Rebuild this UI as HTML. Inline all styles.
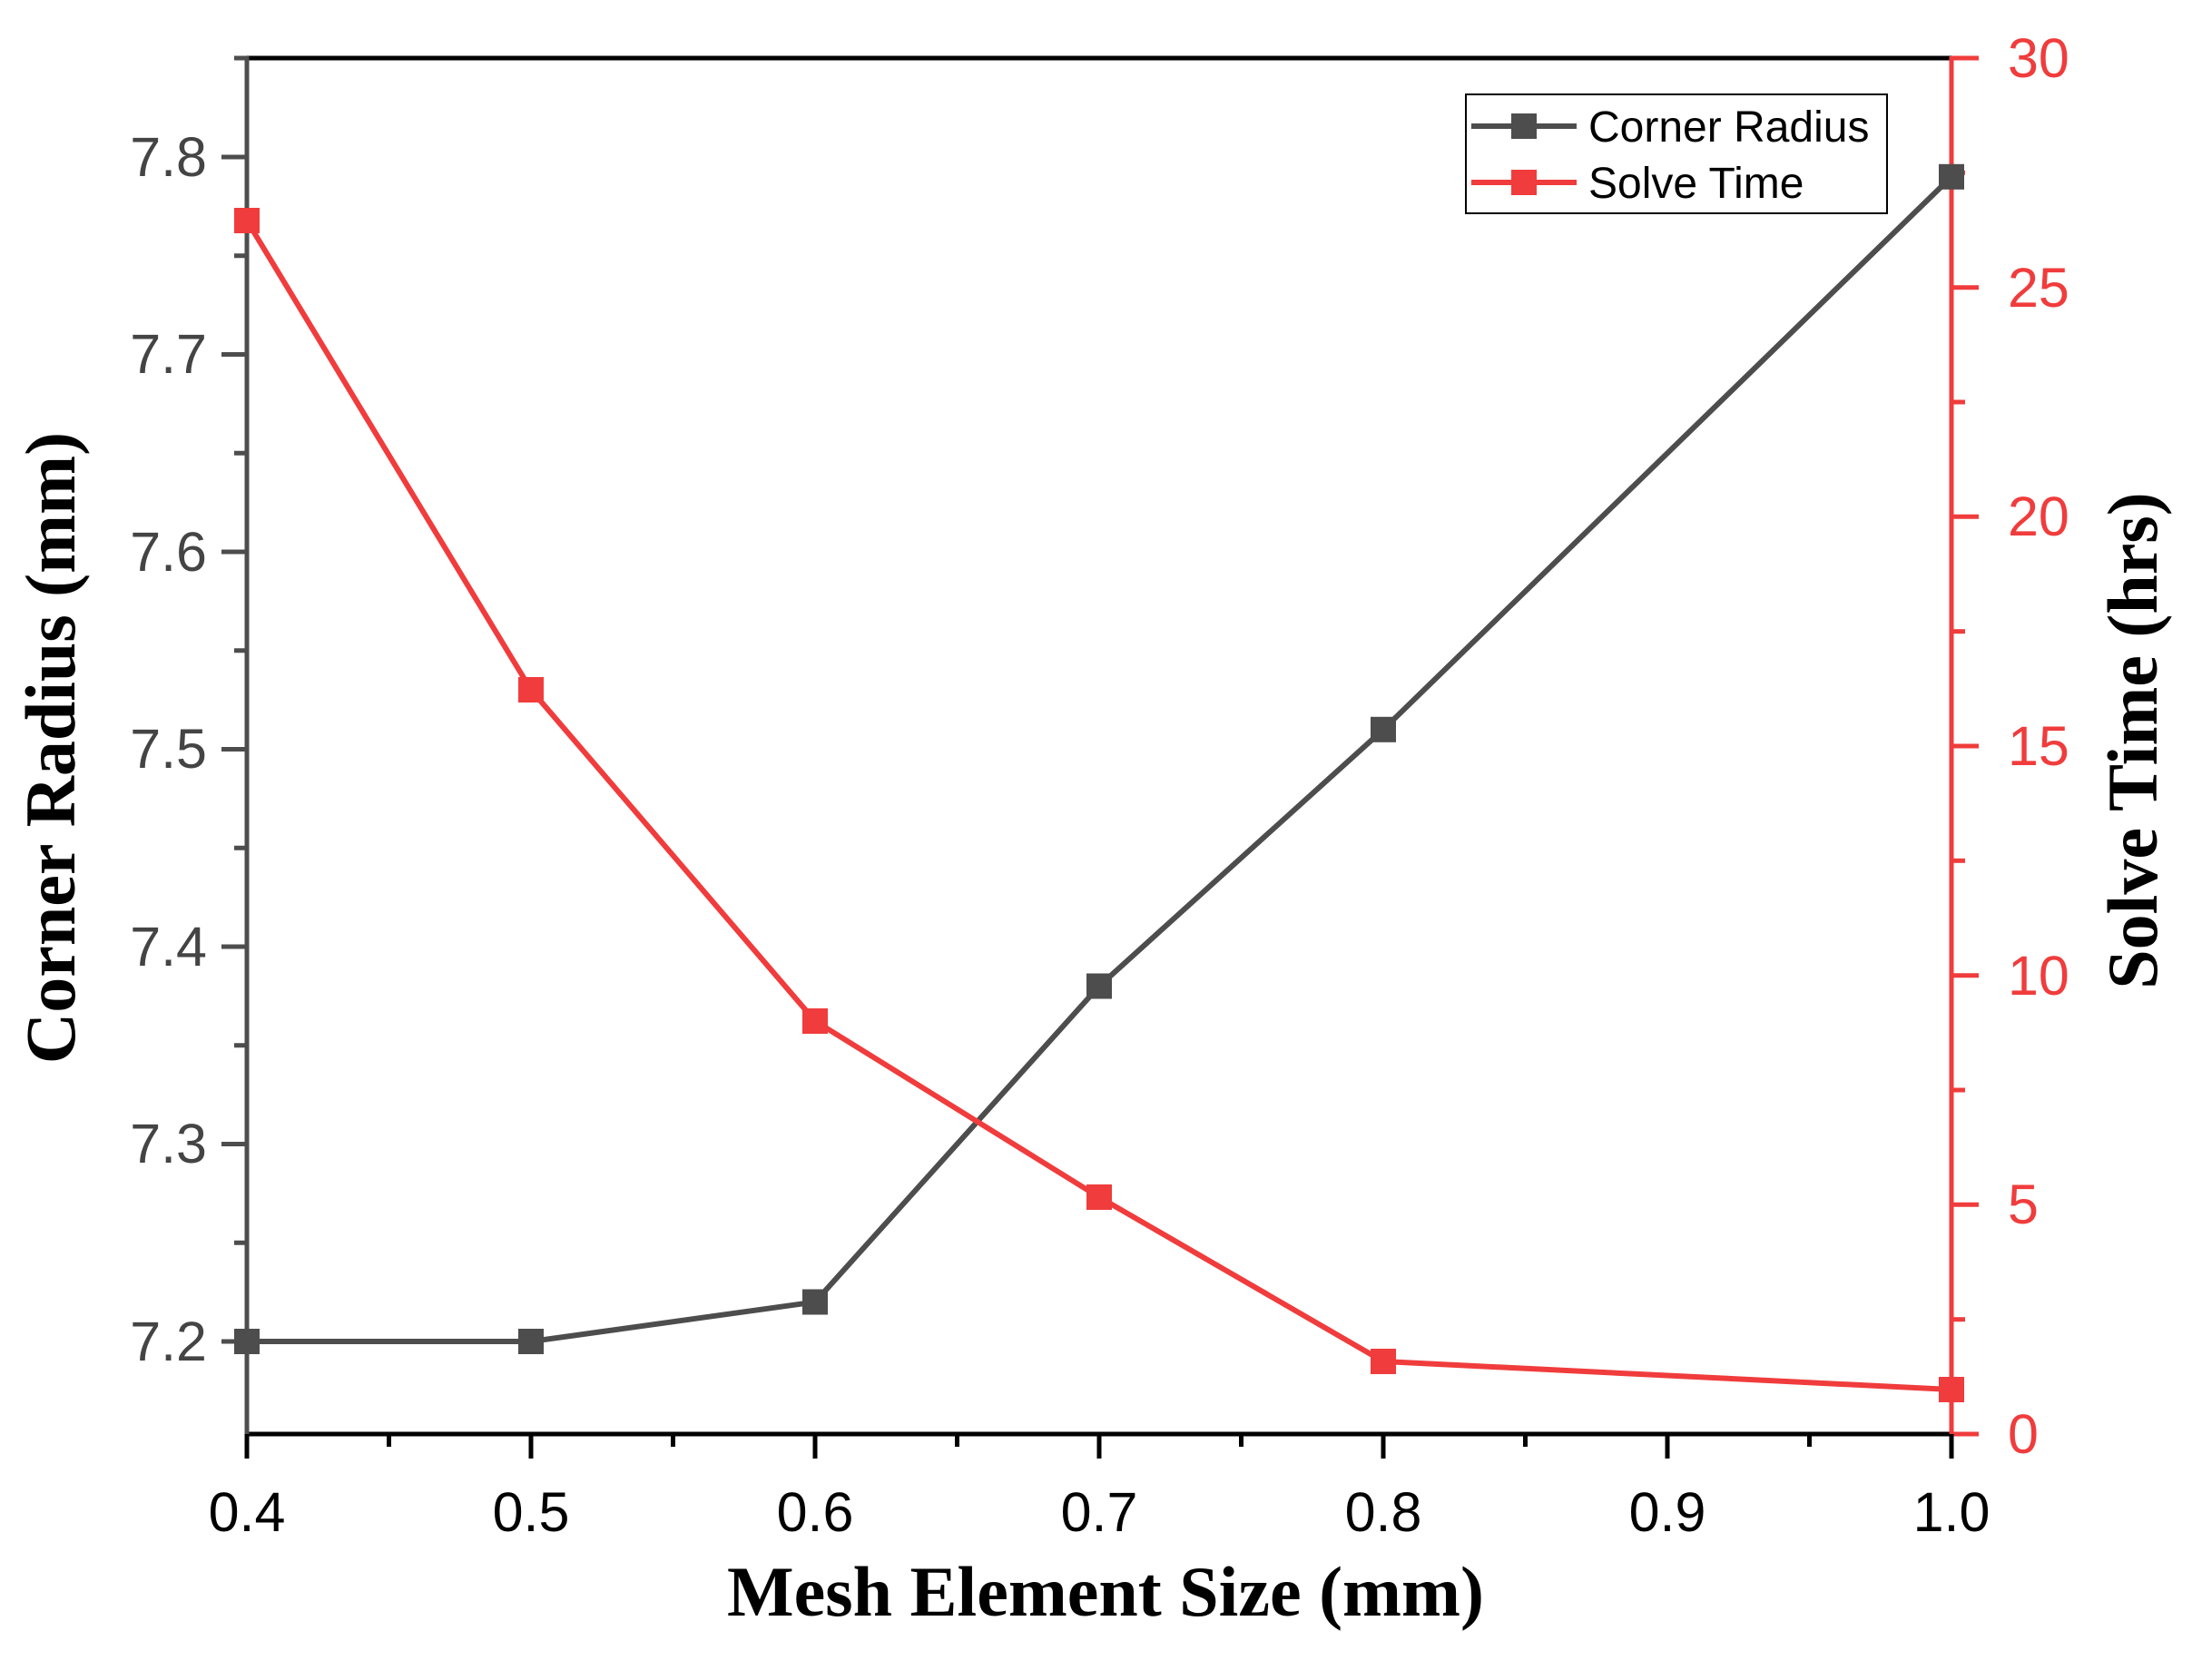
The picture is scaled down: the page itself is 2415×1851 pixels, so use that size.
<!DOCTYPE html>
<html><head><meta charset="utf-8"><style>body{margin:0;background:#fff}svg{display:block}</style></head><body>
<svg width="2415" height="1851" viewBox="0 0 2415 1851" xmlns="http://www.w3.org/2000/svg" font-family="Liberation Sans, sans-serif">
<rect width="2415" height="1851" fill="#fff"/>
<line x1="272" y1="64" x2="2150" y2="64" stroke="#000" stroke-width="5"/>
<line x1="272" y1="1580" x2="2150" y2="1580" stroke="#000" stroke-width="5"/>
<line x1="272" y1="62" x2="272" y2="1583" stroke="#4d4d4d" stroke-width="5"/>
<line x1="2150" y1="62" x2="2150" y2="1583" stroke="#f03c3c" stroke-width="5"/>
<g stroke="#4d4d4d" stroke-width="5">
<line x1="244" y1="173" x2="272" y2="173"/><line x1="244" y1="390.5" x2="272" y2="390.5"/><line x1="244" y1="608" x2="272" y2="608"/><line x1="244" y1="825.5" x2="272" y2="825.5"/><line x1="244" y1="1043" x2="272" y2="1043"/><line x1="244" y1="1260.5" x2="272" y2="1260.5"/><line x1="244" y1="1478" x2="272" y2="1478"/>
<line x1="258" y1="64" x2="272" y2="64"/><line x1="258" y1="281.75" x2="272" y2="281.75"/><line x1="258" y1="499.25" x2="272" y2="499.25"/><line x1="258" y1="716.75" x2="272" y2="716.75"/><line x1="258" y1="934.25" x2="272" y2="934.25"/><line x1="258" y1="1151.75" x2="272" y2="1151.75"/><line x1="258" y1="1369.25" x2="272" y2="1369.25"/>
</g>
<g stroke="#f03c3c" stroke-width="5">
<line x1="2150" y1="1580" x2="2180" y2="1580"/><line x1="2150" y1="1327.3" x2="2180" y2="1327.3"/><line x1="2150" y1="1074.7" x2="2180" y2="1074.7"/><line x1="2150" y1="822" x2="2180" y2="822"/><line x1="2150" y1="569.3" x2="2180" y2="569.3"/><line x1="2150" y1="316.7" x2="2180" y2="316.7"/><line x1="2150" y1="64" x2="2180" y2="64"/>
<line x1="2150" y1="1453.7" x2="2165" y2="1453.7"/><line x1="2150" y1="1201" x2="2165" y2="1201"/><line x1="2150" y1="948.3" x2="2165" y2="948.3"/><line x1="2150" y1="695.7" x2="2165" y2="695.7"/><line x1="2150" y1="443" x2="2165" y2="443"/><line x1="2150" y1="190.3" x2="2165" y2="190.3"/>
</g>
<g stroke="#000" stroke-width="5">
<line x1="272" y1="1580" x2="272" y2="1607"/><line x1="585" y1="1580" x2="585" y2="1607"/><line x1="898" y1="1580" x2="898" y2="1607"/><line x1="1211" y1="1580" x2="1211" y2="1607"/><line x1="1524" y1="1580" x2="1524" y2="1607"/><line x1="1837" y1="1580" x2="1837" y2="1607"/><line x1="2150" y1="1580" x2="2150" y2="1607"/>
<line x1="428.5" y1="1580" x2="428.5" y2="1594"/><line x1="741.5" y1="1580" x2="741.5" y2="1594"/><line x1="1054.5" y1="1580" x2="1054.5" y2="1594"/><line x1="1367.5" y1="1580" x2="1367.5" y2="1594"/><line x1="1680.5" y1="1580" x2="1680.5" y2="1594"/><line x1="1993.5" y1="1580" x2="1993.5" y2="1594"/>
</g>
<g fill="#444" font-size="61" text-anchor="end">
<text x="228" y="194">7.8</text><text x="228" y="411">7.7</text><text x="228" y="629">7.6</text><text x="228" y="846">7.5</text><text x="228" y="1064">7.4</text><text x="228" y="1281">7.3</text><text x="228" y="1499">7.2</text>
</g>
<g fill="#f03c3c" font-size="61" text-anchor="start">
<text x="2212" y="1601">0</text><text x="2212" y="1348">5</text><text x="2212" y="1096">10</text><text x="2212" y="843">15</text><text x="2212" y="590">20</text><text x="2212" y="338">25</text><text x="2212" y="85">30</text>
</g>
<g fill="#000" font-size="61" text-anchor="middle">
<text x="272" y="1687">0.4</text><text x="585" y="1687">0.5</text><text x="898" y="1687">0.6</text><text x="1211" y="1687">0.7</text><text x="1524" y="1687">0.8</text><text x="1837" y="1687">0.9</text><text x="2150" y="1687">1.0</text>
</g>
<g font-family="Liberation Serif, serif" font-weight="bold" font-size="78" fill="#000" text-anchor="middle">
<text x="1218" y="1780">Mesh Element Size (mm)</text>
<text transform="translate(82,824) rotate(-90)">Corner Radius (mm)</text>
<text transform="translate(2376,816) rotate(-90)">Solve Time (hrs)</text>
</g>
<polyline points="272,1478 585,1478 898,1434.5 1211,1086.5 1524,803.8 2150,194.8" fill="none" stroke="#4d4d4d" stroke-width="6"/>
<g fill="#4d4d4d">
<rect x="258" y="1464" width="28" height="28"/><rect x="571" y="1464" width="28" height="28"/><rect x="884" y="1420.5" width="28" height="28"/><rect x="1197" y="1072.5" width="28" height="28"/><rect x="1510" y="789.8" width="28" height="28"/><rect x="2136" y="180.8" width="28" height="28"/>
</g>
<polyline points="272,243 585,760 898,1125 1211,1319 1524,1500 2150,1531" fill="none" stroke="#f03c3c" stroke-width="6"/>
<g fill="#f03c3c">
<rect x="258" y="229" width="28" height="28"/><rect x="571" y="746" width="28" height="28"/><rect x="884" y="1111" width="28" height="28"/><rect x="1197" y="1305" width="28" height="28"/><rect x="1510" y="1486" width="28" height="28"/><rect x="2136" y="1517" width="28" height="28"/>
</g>
<rect x="1615" y="104" width="464" height="131" fill="#fff" stroke="#000" stroke-width="2"/>
<line x1="1621" y1="139" x2="1737" y2="139" stroke="#4d4d4d" stroke-width="6"/>
<rect x="1665" y="125" width="28" height="28" fill="#4d4d4d"/>
<line x1="1621" y1="201" x2="1737" y2="201" stroke="#f03c3c" stroke-width="6"/>
<rect x="1665" y="187" width="28" height="28" fill="#f03c3c"/>
<g font-size="48" fill="#000">
<text x="1750" y="156">Corner Radius</text><text x="1750" y="218">Solve Time</text>
</g>
</svg>
</body></html>
